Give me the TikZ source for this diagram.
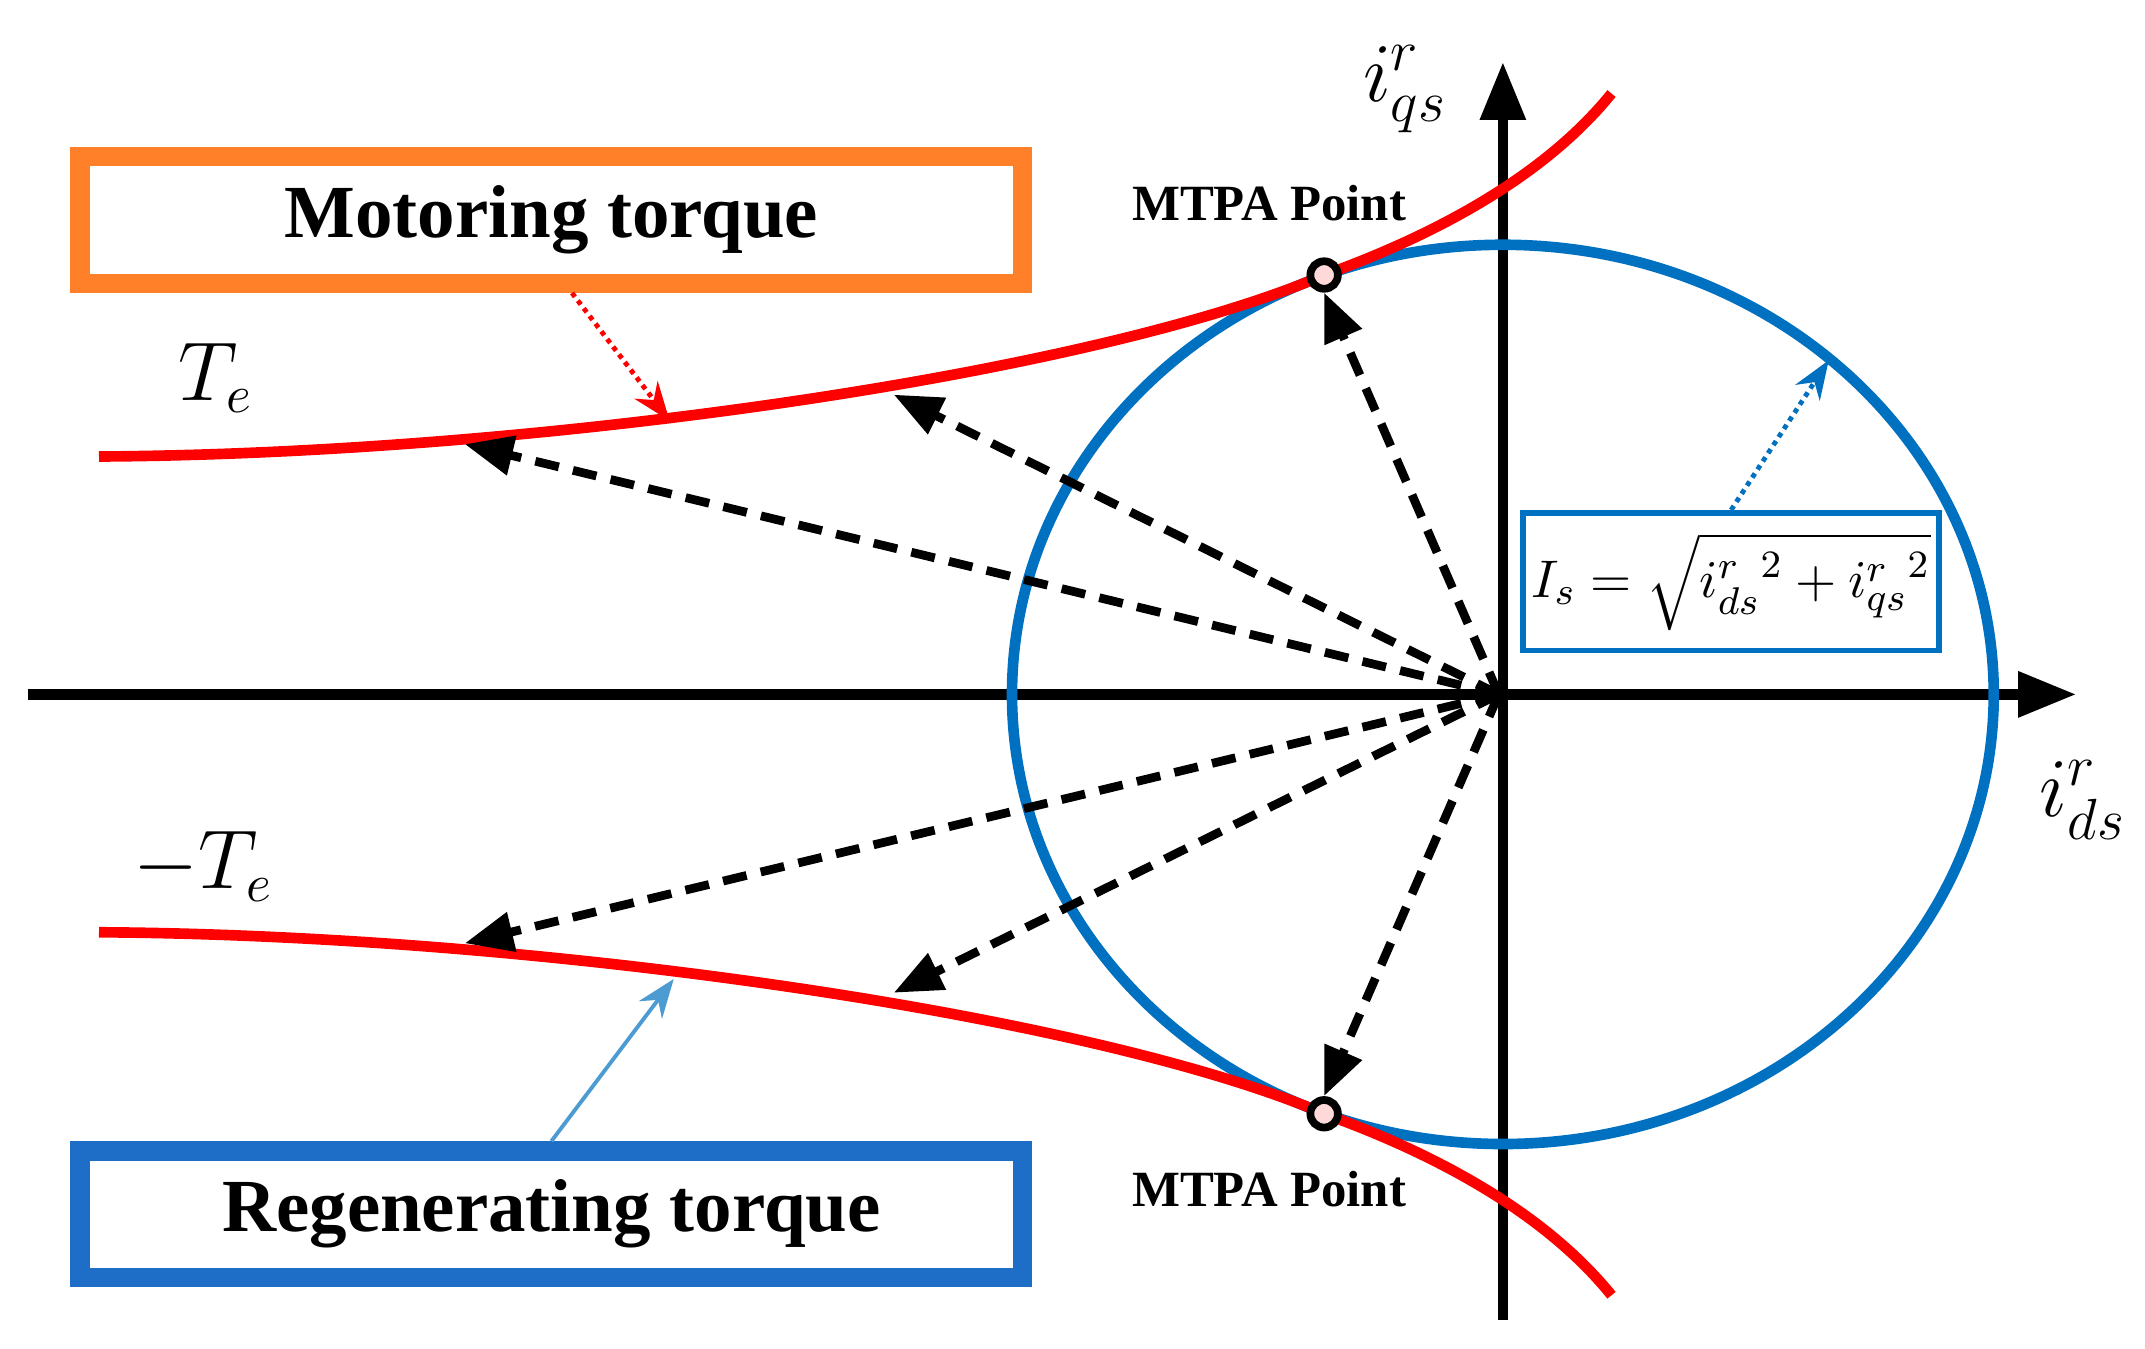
\documentclass[tikz,border=0pt]{standalone}
\usepackage{fontspec}
\setmainfont{Liberation Serif}
\usepackage{amsmath}
\usetikzlibrary{arrows.meta}
\definecolor{myred}{RGB}{255,0,0}
\definecolor{myblue}{RGB}{0,112,192}
\definecolor{myorange}{RGB}{255,128,40}
\definecolor{boxblue}{RGB}{30,110,200}
\begin{document}
\begin{tikzpicture}[x=0.01cm,y=-0.01cm,
  axis/.style={line width=2.2pt,-{Triangle[length=12pt,width=9pt]}},
  curve/.style={myred,line width=2.2pt},
  vec/.style={dashed,line width=1.8pt,dash pattern=on 5pt off 3pt,-{Triangle[length=10pt,width=8pt]}},
  lbox/.style={draw,line width=4pt,minimum width=6.85cm,minimum height=0.92cm,font=\fontsize{15.5}{18}\selectfont\bfseries},
  mtpa/.style={font=\fontsize{10.5}{13}\selectfont\bfseries}]
\useasboundingbox (0,0) rectangle (1560,981);
\coordinate (O) at (1090,505);
\draw[axis] (20,505) -- (1510,505);
\draw[axis] (1093,960) -- (1093,45);
\draw[myblue,line width=2.2pt] (1093,505) ellipse [x radius=357,y radius=327];
\draw[curve] (72,332) .. controls (400,330) and (800,270) .. (963,200) .. controls (1060,165) and (1130,120) .. (1172,68);
\draw[curve] (72,678) .. controls (400,680) and (800,740) .. (963,810) .. controls (1060,845) and (1130,890) .. (1172,942);
\node[draw,line width=1.6pt,circle,inner sep=0pt,minimum size=0.2cm,fill=red!15] (m1) at (963,200) {};
\node[draw,line width=1.6pt,circle,inner sep=0pt,minimum size=0.2cm,fill=red!15] (m2) at (963,810) {};
\coordinate (a1) at (650,287); \coordinate (a2) at (338,323);
\coordinate (b1) at (650,722); \coordinate (b2) at (338,686);
\draw[vec] (O) -- (m1.south);
\draw[vec] (O) -- (a1);
\draw[vec] (O) -- (a2);
\draw[vec] (O) -- (m2.north);
\draw[vec] (O) -- (b1);
\draw[vec] (O) -- (b2);
\node[lbox,draw=myorange] (mot) at (401,160) {Motoring torque};
\node[lbox,draw=boxblue] (reg) at (401,883) {Regenerating torque};
\node[mtpa] (p1) at (923,148) {MTPA Point};
\node[mtpa] (p2) at (923,865) {MTPA Point};
\node[font=\fontsize{16}{20}\selectfont] (te) at (157,275) {$T_e$};
\node[font=\fontsize{16}{20}\selectfont] (mte) at (148,630) {$-T_e$};
\node[font=\fontsize{17}{20}\selectfont] (iq) at (1022,65) {$i_{qs}^{r}$};
\node[font=\fontsize{17}{20}\selectfont] (id) at (1515,582) {$i_{ds}^{r}$};
\node[draw=myblue,line width=1.2pt,minimum width=3.02cm,minimum height=1cm,inner sep=1pt,font=\fontsize{11}{13}\selectfont] (f) at (1259,423) {$I_s=\sqrt{{i_{ds}^{r}}^{2}+{i_{qs}^{r}}^{2}}$};
\coordinate (t1) at (487,306);
\coordinate (t2) at (1330,262);
\coordinate (t3) at (490,712);
\draw[myred,densely dotted,line width=1pt,-{Stealth[length=8pt]}] (mot.south) ++(15,0) -- (t1);
\draw[myblue,densely dotted,line width=1pt,-{Stealth[length=8pt]}] (f.north) -- (t2);
\draw[myblue!70,line width=0.8pt,-{Stealth[length=8pt]}] (reg.north) -- (t3);
\end{tikzpicture}
\end{document}
